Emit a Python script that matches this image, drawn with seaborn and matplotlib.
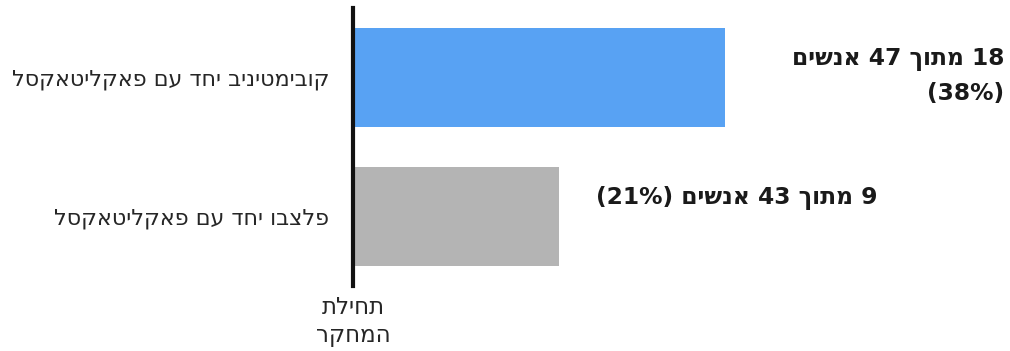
import matplotlib
matplotlib.use("Agg")
import matplotlib.pyplot as plt
import matplotlib.transforms as mtransforms
import seaborn as sns
import pandas as pd

# ---- data (logical Hebrew order) ----
categories = ["קובימטיניב יחד עם פאקליטאקסל", "פלצבו יחד עם פאקליטאקסל"]
percents = [38, 21]
responders = [18, 9]
totals = [47, 43]
bar_colors = ["#58A2F3", "#B4B4B4"]
axis_label = "תחילת\nהמחקר"


def is_hebrew(s):
    return any("\u0590" <= c <= "\u05FF" for c in s)


def visual(text):
    """Very small RTL -> visual-order converter (per line)."""
    lines = []
    for line in text.split("\n"):
        words = line.split(" ")
        out = [w[::-1] if is_hebrew(w) else w for w in reversed(words)]
        lines.append(" ".join(out))
    return "\n".join(lines)


sns.set_style("white")
plt.rcParams["font.family"] = ["DejaVu Sans"]

df = pd.DataFrame({"label": [visual(c) for c in categories], "pct": percents})

fig = plt.figure(figsize=(10.10, 3.51), dpi=100)
ax = fig.add_axes([353 / 1010, 65 / 351, 635 / 1010, 278 / 351])

sns.barplot(data=df, x="pct", y="label", hue="label", palette=bar_colors,
            orient="h", width=0.71, legend=False, ax=ax, saturation=1,
            edgecolor="none")

ax.set_xlim(0, 64.8)
ax.set_ylim(1.5, -0.5)
ax.set_xlabel("")
ax.set_ylabel("")
ax.set_xticks([])
for s in ["top", "right", "bottom"]:
    ax.spines[s].set_visible(False)
ax.spines["left"].set_linewidth(3)
ax.spines["left"].set_color("#111111")
ax.tick_params(axis="y", length=0, pad=17, labelsize=16, labelcolor="#262626")

# annotations
txt_kw = dict(family=["DejaVu Sans"], weight="bold",
              fontsize=16.8, color="#1a1a1a")
lab0 = visual(f"{responders[0]} מתוך {totals[0]} אנשים") + "\n" + f"({percents[0]}%)"
trans0 = mtransforms.blended_transform_factory(fig.transFigure, ax.transData)
ax.text(1004 / 1010, -0.01, lab0, transform=trans0, ha="right", va="center",
        multialignment="right", linespacing=1.6, **txt_kw)

lab1 = f"({percents[1]}%) " + visual(f"{responders[1]} מתוך {totals[1]} אנשים")
ax.annotate(lab1, xy=(percents[1], 1), xytext=(27, 13),
            textcoords="offset points", ha="left", va="center", **txt_kw)

# bottom axis label
ax.text(0, -0.035, visual(axis_label), transform=ax.transAxes, ha="center",
        va="top", fontsize=16.5, color="#262626", linespacing=1.28)

fig.savefig("out.png", dpi=100)
